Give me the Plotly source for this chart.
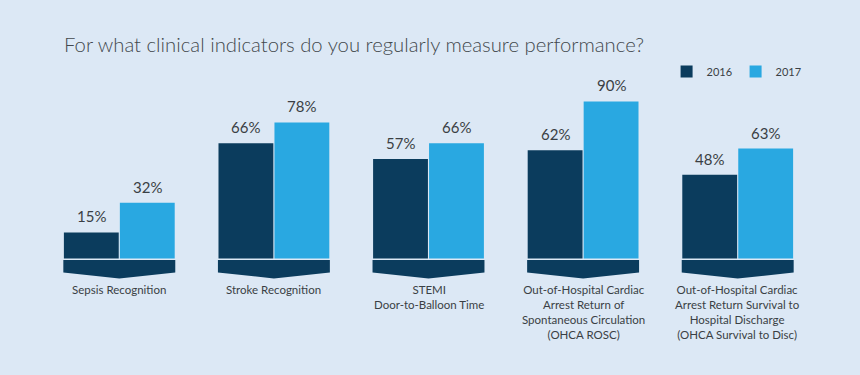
import plotly.graph_objects as go

categories = [
    "Sepsis Recognition",
    "Stroke Recognition",
    "STEMI<br>Door-to-Balloon Time",
    "Out-of-Hospital Cardiac<br>Arrest Return of<br>Spontaneous Circulation<br>(OHCA ROSC)",
    "Out-of-Hospital Cardiac<br>Arrest Return Survival to<br>Hospital Discharge<br>(OHCA Survival to Disc)",
]
values_2016 = [15, 66, 57, 62, 48]
values_2017 = [32, 78, 66, 90, 63]
series_names = ["2016", "2017"]

BG = "#dce8f5"
DARK = "#0b3c5d"
LIGHT = "#29a8e1"
TEXT = "#3a3f44"
FONT = "Lato"

x = list(range(len(categories)))
group_w = 0.724
half = group_w / 2

fig = go.Figure()
fig.add_trace(go.Bar(x=x, y=values_2016, name=series_names[0], marker=dict(color=DARK, line=dict(width=0))))
fig.add_trace(go.Bar(x=x, y=values_2017, name=series_names[1], marker=dict(color=LIGHT, line=dict(width=0))))

shapes = []
annotations = []
for i, cat in enumerate(categories):
    x0, x1 = i - half, i + half
    shapes.append(dict(
        type="path", xref="x", yref="y",
        path=f"M {x0},-0.8 L {x1},-0.8 L {x1},-8 L {i},-11.4 L {x0},-8 Z",
        fillcolor=DARK, line=dict(width=0), layer="above",
    ))
    annotations.append(dict(
        x=i, y=-11.4, xref="x", yref="y", text=cat, showarrow=False,
        yanchor="top", xanchor="center", yshift=-3,
        font=dict(family=FONT, size=11.5, color=TEXT), align="center",
    ))
    for v, off in ((values_2016[i], -half / 2), (values_2017[i], half / 2)):
        annotations.append(dict(
            x=i + off, y=v, xref="x", yref="y", text=f"{v}%", showarrow=False,
            yanchor="bottom", xanchor="center", yshift=5,
            font=dict(family=FONT, size=15, color=TEXT),
        ))

fig.update_layout(
    width=860, height=375,
    margin=dict(l=42, r=45, t=84, b=91.5),
    paper_bgcolor=BG, plot_bgcolor=BG,
    barmode="group", bargap=1 - group_w, bargroupgap=0.02,
    title=dict(
        text="For what clinical indicators do you regularly measure performance?",
        x=64 / 860, xanchor="left", xref="container",
        y=1 - 45 / 375, yanchor="middle", yref="container",
        font=dict(family=FONT, size=20.3, color="#43484d", weight=300),
    ),
    legend=dict(
        orientation="h", x=0.808, xanchor="left", y=1.063, yanchor="middle",
        entrywidth=24,
        font=dict(family=FONT, size=11, color=TEXT), bgcolor="rgba(0,0,0,0)",
    ),
    xaxis=dict(range=[-0.5, len(categories) - 0.5], showgrid=False, zeroline=False,
               showticklabels=False, fixedrange=True),
    yaxis=dict(range=[-14, 100], showgrid=False, zeroline=False,
               showticklabels=False, fixedrange=True),
    shapes=shapes,
    annotations=annotations,
)

fig.write_html(
    "out.html",
    config={"displayModeBar": False},
    post_script="document.body.style.margin='0';document.body.style.background='#dce8f5';",
)
